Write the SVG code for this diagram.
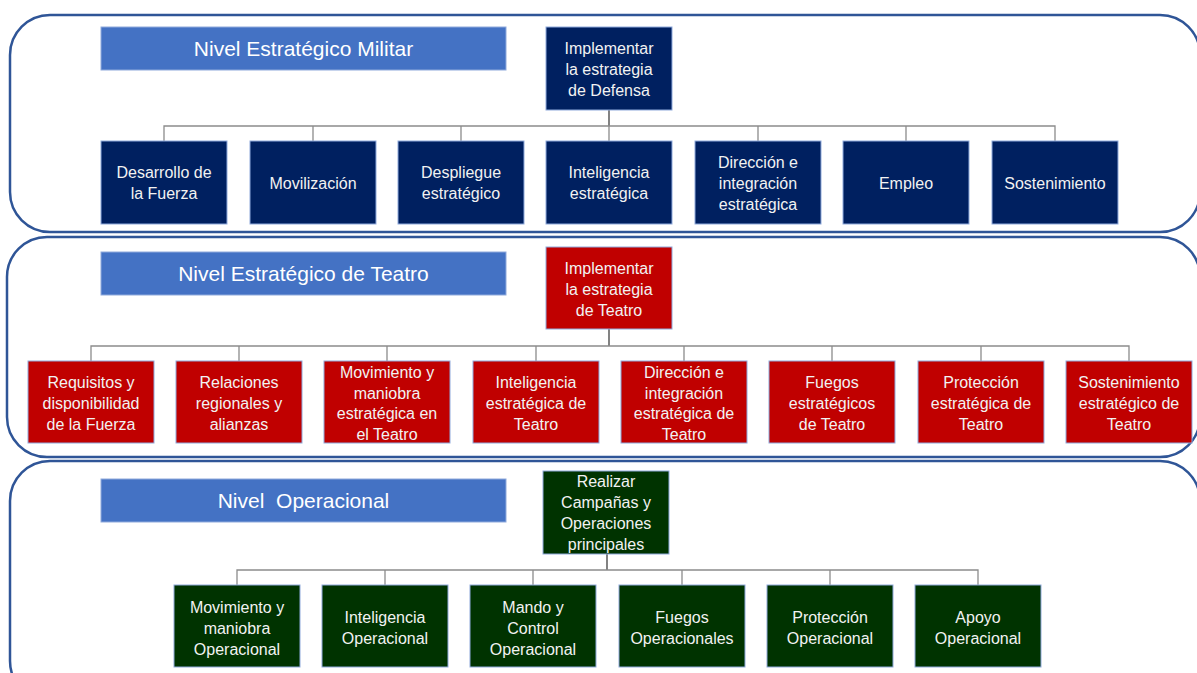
<svg xmlns="http://www.w3.org/2000/svg" width="1197" height="673" viewBox="0 0 1197 673">
  <style>
    .band { fill: #ffffff; stroke: #2F5597; stroke-width: 2.5; }
    .hdr { fill: #4472C4; stroke: #8FAADC; stroke-width: 1; }
    .hdr-t { font-family: "Liberation Sans", Arial, sans-serif; font-size: 21px; fill: #ffffff; text-anchor: middle; white-space: pre; }
    .blue { fill: #002060; stroke: #8FAADC; stroke-width: 1; }
    .red { fill: #C00000; stroke: #8FAADC; stroke-width: 1; }
    .green { fill: #003300; stroke: #8FAADC; stroke-width: 1; }
    .t { font-family: "Liberation Sans", Arial, sans-serif; font-size: 16px; fill: #F2F2F2; text-anchor: middle; }
    .bus { fill: none; stroke: #8C8C8C; stroke-width: 1.3; }
    .stem { fill: none; stroke: #404040; stroke-width: 1.3; }
  </style>

  <!-- level bands -->
  <g id="bands">
    <rect class="band" x="10" y="15" width="1190" height="217" rx="40" ry="40"/>
    <rect class="band" x="7" y="237" width="1193" height="220" rx="40" ry="40"/>
    <rect class="band" x="10" y="461" width="1190" height="240" rx="40" ry="40"/>
  </g>

  <!-- level headers -->
  <g id="hdr-militar">
    <rect class="hdr" x="101" y="27" width="405" height="43"/>
    <text class="hdr-t" x="303.5" y="56">Nivel Estratégico Militar</text>
  </g>
  <g id="hdr-teatro">
    <rect class="hdr" x="101" y="252" width="405" height="43"/>
    <text class="hdr-t" x="303.5" y="281">Nivel Estratégico de Teatro</text>
  </g>
  <g id="hdr-operacional">
    <rect class="hdr" x="101" y="479" width="405" height="43"/>
    <text class="hdr-t" x="303.5" y="508">Nivel  Operacional</text>
  </g>

  <!-- connectors -->
  <g id="connectors">
    <path class="stem" d="M609 110 V126"/>
    <path class="bus" d="M164 141 V126 H1055 V141 M313 126 V141 M461 126 V141 M609 126 V141 M758 126 V141 M906 126 V141"/>
    <path class="stem" d="M609 329 V346"/>
    <path class="bus" d="M91 361 V346 H1129 V361 M239 346 V361 M387 346 V361 M536 346 V361 M684 346 V361 M832 346 V361 M981 346 V361"/>
    <path class="stem" d="M607 554 V570"/>
    <path class="bus" d="M237 585 V570 H978 V585 M385 570 V585 M533 570 V585 M682 570 V585 M830 570 V585"/>
  </g>

  <!-- Nivel Estratégico Militar -->
  <g id="root-defensa">
    <rect class="blue" x="546" y="27" width="126" height="83"/>
    <text class="t" x="609" y="54">Implementar</text>
    <text class="t" x="609" y="75">la estrategia</text>
    <text class="t" x="609" y="96">de Defensa</text>
  </g>
  <g id="m-desarrollo">
    <rect class="blue" x="101" y="141" width="126" height="83"/>
    <text class="t" x="164" y="178">Desarrollo de</text>
    <text class="t" x="164" y="199">la Fuerza</text>
  </g>
  <g id="m-movilizacion">
    <rect class="blue" x="250" y="141" width="126" height="83"/>
    <text class="t" x="313" y="189">Movilización</text>
  </g>
  <g id="m-despliegue">
    <rect class="blue" x="398" y="141" width="126" height="83"/>
    <text class="t" x="461" y="178">Despliegue</text>
    <text class="t" x="461" y="199">estratégico</text>
  </g>
  <g id="m-inteligencia">
    <rect class="blue" x="546" y="141" width="126" height="83"/>
    <text class="t" x="609" y="178">Inteligencia</text>
    <text class="t" x="609" y="199">estratégica</text>
  </g>
  <g id="m-direccion">
    <rect class="blue" x="695" y="141" width="126" height="83"/>
    <text class="t" x="758" y="168">Dirección e</text>
    <text class="t" x="758" y="189">integración</text>
    <text class="t" x="758" y="210">estratégica</text>
  </g>
  <g id="m-empleo">
    <rect class="blue" x="843" y="141" width="126" height="83"/>
    <text class="t" x="906" y="189">Empleo</text>
  </g>
  <g id="m-sostenimiento">
    <rect class="blue" x="992" y="141" width="126" height="83"/>
    <text class="t" x="1055" y="189">Sostenimiento</text>
  </g>

  <!-- Nivel Estratégico de Teatro -->
  <g id="root-teatro">
    <rect class="red" x="546" y="247" width="126" height="82"/>
    <text class="t" x="609" y="274">Implementar</text>
    <text class="t" x="609" y="295">la estrategia</text>
    <text class="t" x="609" y="316">de Teatro</text>
  </g>
  <g id="t-requisitos">
    <rect class="red" x="28" y="361" width="126" height="82"/>
    <text class="t" x="91" y="388">Requisitos y</text>
    <text class="t" x="91" y="409">disponibilidad</text>
    <text class="t" x="91" y="430">de la Fuerza</text>
  </g>
  <g id="t-relaciones">
    <rect class="red" x="176" y="361" width="126" height="82"/>
    <text class="t" x="239" y="388">Relaciones</text>
    <text class="t" x="239" y="409">regionales y</text>
    <text class="t" x="239" y="430">alianzas</text>
  </g>
  <g id="t-movimiento">
    <rect class="red" x="324" y="361" width="126" height="82"/>
    <text class="t" x="387" y="378">Movimiento y</text>
    <text class="t" x="387" y="399">maniobra</text>
    <text class="t" x="387" y="419">estratégica en</text>
    <text class="t" x="387" y="440">el Teatro</text>
  </g>
  <g id="t-inteligencia">
    <rect class="red" x="473" y="361" width="126" height="82"/>
    <text class="t" x="536" y="388">Inteligencia</text>
    <text class="t" x="536" y="409">estratégica de</text>
    <text class="t" x="536" y="430">Teatro</text>
  </g>
  <g id="t-direccion">
    <rect class="red" x="621" y="361" width="126" height="82"/>
    <text class="t" x="684" y="378">Dirección e</text>
    <text class="t" x="684" y="399">integración</text>
    <text class="t" x="684" y="419">estratégica de</text>
    <text class="t" x="684" y="440">Teatro</text>
  </g>
  <g id="t-fuegos">
    <rect class="red" x="769" y="361" width="126" height="82"/>
    <text class="t" x="832" y="388">Fuegos</text>
    <text class="t" x="832" y="409">estratégicos</text>
    <text class="t" x="832" y="430">de Teatro</text>
  </g>
  <g id="t-proteccion">
    <rect class="red" x="918" y="361" width="126" height="82"/>
    <text class="t" x="981" y="388">Protección</text>
    <text class="t" x="981" y="409">estratégica de</text>
    <text class="t" x="981" y="430">Teatro</text>
  </g>
  <g id="t-sostenimiento">
    <rect class="red" x="1066" y="361" width="126" height="82"/>
    <text class="t" x="1129" y="388">Sostenimiento</text>
    <text class="t" x="1129" y="409">estratégico de</text>
    <text class="t" x="1129" y="430">Teatro</text>
  </g>

  <!-- Nivel Operacional -->
  <g id="root-operacional">
    <rect class="green" x="543" y="471" width="126" height="83"/>
    <text class="t" x="606" y="487">Realizar</text>
    <text class="t" x="606" y="508">Campañas y</text>
    <text class="t" x="606" y="529">Operaciones</text>
    <text class="t" x="606" y="550">principales</text>
  </g>
  <g id="o-movimiento">
    <rect class="green" x="174" y="585" width="126" height="82"/>
    <text class="t" x="237" y="613">Movimiento y</text>
    <text class="t" x="237" y="634">maniobra</text>
    <text class="t" x="237" y="655">Operacional</text>
  </g>
  <g id="o-inteligencia">
    <rect class="green" x="322" y="585" width="126" height="82"/>
    <text class="t" x="385" y="623">Inteligencia</text>
    <text class="t" x="385" y="644">Operacional</text>
  </g>
  <g id="o-mando">
    <rect class="green" x="470" y="585" width="126" height="82"/>
    <text class="t" x="533" y="613">Mando y</text>
    <text class="t" x="533" y="634">Control</text>
    <text class="t" x="533" y="655">Operacional</text>
  </g>
  <g id="o-fuegos">
    <rect class="green" x="619" y="585" width="126" height="82"/>
    <text class="t" x="682" y="623">Fuegos</text>
    <text class="t" x="682" y="644">Operacionales</text>
  </g>
  <g id="o-proteccion">
    <rect class="green" x="767" y="585" width="126" height="82"/>
    <text class="t" x="830" y="623">Protección</text>
    <text class="t" x="830" y="644">Operacional</text>
  </g>
  <g id="o-apoyo">
    <rect class="green" x="915" y="585" width="126" height="82"/>
    <text class="t" x="978" y="623">Apoyo</text>
    <text class="t" x="978" y="644">Operacional</text>
  </g>
</svg>
